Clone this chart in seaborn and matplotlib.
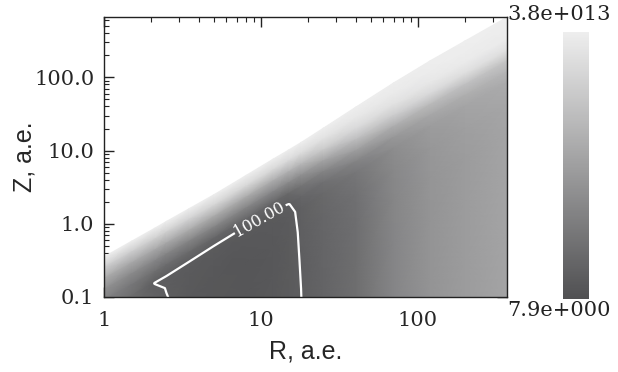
import numpy as np
import matplotlib
matplotlib.use("Agg")
import matplotlib.pyplot as plt
import seaborn as sns
from matplotlib.colors import LogNorm, LinearSegmentedColormap
from matplotlib.ticker import FixedLocator, LogLocator, NullFormatter

# ---------------- data ----------------
R_nodes = [1, 1.5, 2.1, 2.5, 3.5, 5, 8, 12, 15, 18, 25, 40, 70, 120, 200, 370]
Z_surface = [0.355, 0.58, 0.87, 1.08, 1.62, 2.49, 4.56, 7.7, 10.2, 12.9,
             20.3, 39, 84, 169, 315, 665]
depth_dex = [0, 0.15, 0.3, 0.45, 0.6, 0.75, 0.9, 1.2, 1.6, 2.2, 3.0, 4.0]

# log10 of the plotted quantity, one row per R node, columns follow depth_dex
logval_R1 = [13.55, 10.8, 8.0, 6.0, 4.8, 4.3, 4.1, 4.0, 4.0, 4.0, 4.0, 4.0]
logval_R1p5 = [13.55, 10.8, 7.8, 5.5, 4.0, 3.3, 3.0, 2.9, 2.9, 2.9, 2.9, 2.9]
logval_R2p1 = [13.55, 10.9, 7.8, 5.2, 3.3, 1.97, 2.3, 2.4, 2.5, 2.6, 2.6, 2.6]
logval_R2p5 = [13.55, 11.0, 7.8, 5.0, 3.1, 1.98, 1.95, 2.1, 2.4, 2.5, 2.5, 2.5]
logval_R3p5 = [13.55, 11.2, 8.0, 5.0, 2.9, 1.85, 1.7, 1.6, 1.7, 2.0, 2.3, 2.5]
logval_R5 = [13.55, 11.4, 8.0, 5.0, 2.6, 1.75, 1.6, 1.45, 1.45, 1.6, 2.0, 2.3]
logval_R8 = [13.55, 11.5, 8.0, 5.0, 2.6, 1.75, 1.55, 1.4, 1.4, 1.5, 1.8, 2.0]
logval_R12 = [13.55, 11.6, 8.2, 5.2, 2.6, 1.75, 1.65, 1.55, 1.55, 1.6, 1.8, 2.0]
logval_R15 = [13.55, 11.8, 8.5, 5.5, 2.8, 1.95, 1.8, 1.75, 1.75, 1.8, 1.9, 2.0]
logval_R18 = [13.55, 12.0, 9.0, 6.0, 3.7, 2.6, 2.2, 2.1, 2.04, 1.99, 2.1, 2.2]
logval_R25 = [13.55, 12.5, 10.5, 7.5, 5.0, 3.4, 2.9, 2.7, 2.6, 2.55, 2.55, 2.55]
logval_R40 = [13.55, 13.0, 11.8, 9.5, 7.0, 5.0, 4.0, 3.5, 3.35, 3.3, 3.3, 3.3]
logval_R70 = [13.55, 13.2, 12.5, 10.8, 8.3, 6.6, 5.8, 5.4, 5.25, 5.2, 5.2, 5.2]
logval_R120 = [13.55, 13.4, 13.0, 11.8, 9.3, 7.8, 7.0, 6.6, 6.4, 6.35, 6.3, 6.3]
logval_R200 = [13.55, 13.5, 13.2, 12.2, 9.8, 8.4, 7.6, 7.2, 7.0, 7.0, 7.0, 7.0]
logval_R370 = [13.55, 13.5, 13.3, 12.4, 10.2, 9.0, 8.2, 7.8, 7.6, 7.6, 7.6, 7.6]

contour_level = 100.0
cbar_min, cbar_max = 7.9, 3.8e13
cbar_labels = ["3.8e+013", "7.9e+000"]
x_ticks = [1, 10, 100]
x_ticklabels = ["1", "10", "100"]
y_ticks = [0.1, 1.0, 10.0, 100.0]
y_ticklabels = ["0.1", "1.0", "10.0", "100.0"]

# ---------------- build grid ----------------
logval = np.array([logval_R1, logval_R1p5, logval_R2p1, logval_R2p5, logval_R3p5,
                   logval_R5, logval_R8, logval_R12, logval_R15, logval_R18,
                   logval_R25, logval_R40, logval_R70, logval_R120, logval_R200,
                   logval_R370]).T
Rm = np.tile(np.array(R_nodes, float), (len(depth_dex), 1))
Zm = np.array(Z_surface, float)[None, :] * 10.0 ** (-np.array(depth_dex, float)[:, None])

# ---------------- style ----------------
sns.set_theme(style="ticks")
plt.rcParams["font.family"] = ["DejaVu Serif"]
plt.rcParams["axes.edgecolor"] = "#222222"
plt.rcParams["axes.linewidth"] = 1.0

fig = plt.figure(figsize=(6.18, 3.72), dpi=100)
W, H = 618, 372
ax = fig.add_axes([104 / W, (H - 297) / H, 403 / W, 280 / H])
ax.set_xscale("log")
ax.set_yscale("log")
ax.set_xlim(1, 369)
ax.set_ylim(0.1, 667)

cmap = LinearSegmentedColormap.from_list("g", ["#505052", "#eeeeee"])
norm = LogNorm(vmin=cbar_min, vmax=cbar_max)
mesh = ax.pcolormesh(Rm, Zm, 10.0 ** logval, shading="gouraud", cmap=cmap,
                     norm=norm, rasterized=True)

cs = ax.contour(Rm, Zm, logval, levels=[np.log10(contour_level)],
                colors="white", linewidths=1.6)
ax.set_xlim(1, 369)
ax.set_ylim(0.1, 667)
lbls = ax.clabel(cs, fmt=lambda v: f"{10 ** v:.2f}", manual=[(9.6, 1.2)],
                 inline=True, inline_spacing=2, fontsize=11.5, colors="white")

ax.xaxis.set_major_locator(FixedLocator(x_ticks))
ax.set_xticklabels(x_ticklabels)
ax.yaxis.set_major_locator(FixedLocator(y_ticks))
ax.set_yticklabels(y_ticklabels)
ax.xaxis.set_minor_locator(LogLocator(base=10, subs=np.arange(2, 10)))
ax.yaxis.set_minor_locator(LogLocator(base=10, subs=np.arange(2, 10)))
ax.xaxis.set_minor_formatter(NullFormatter())
ax.yaxis.set_minor_formatter(NullFormatter())
ax.tick_params(which="both", direction="in", top=True, right=True,
               color="#222222", labelsize=15)
ax.tick_params(which="major", length=7, width=1.0, pad=7)
ax.tick_params(axis="x", which="major", pad=10)
ax.tick_params(which="minor", length=3.5, width=0.8)
for s in ax.spines.values():
    s.set_visible(True)

ax.set_xlabel("R, a.e.", family="Liberation Sans", fontsize=18, labelpad=7)
ax.set_ylabel("Z, a.e.", family="Liberation Sans", fontsize=18, labelpad=-2)

# colorbar
cax = fig.add_axes([563 / W, (H - 299) / H, 26 / W, 267 / H])
cb = fig.colorbar(mesh, cax=cax)
cb.outline.set_visible(False)
cax.set_yticks([])
cax.minorticks_off()
cax.tick_params(which="both", length=0, labelleft=False, labelright=False)
fig.text(559 / W, 1 - 14 / H, cbar_labels[0], ha="center", va="center",
         fontsize=15, color="#222222")
fig.text(559 / W, 1 - 311 / H, cbar_labels[1], ha="center", va="center",
         fontsize=15, color="#222222")

fig.savefig("out.png", dpi=100, facecolor="white")
